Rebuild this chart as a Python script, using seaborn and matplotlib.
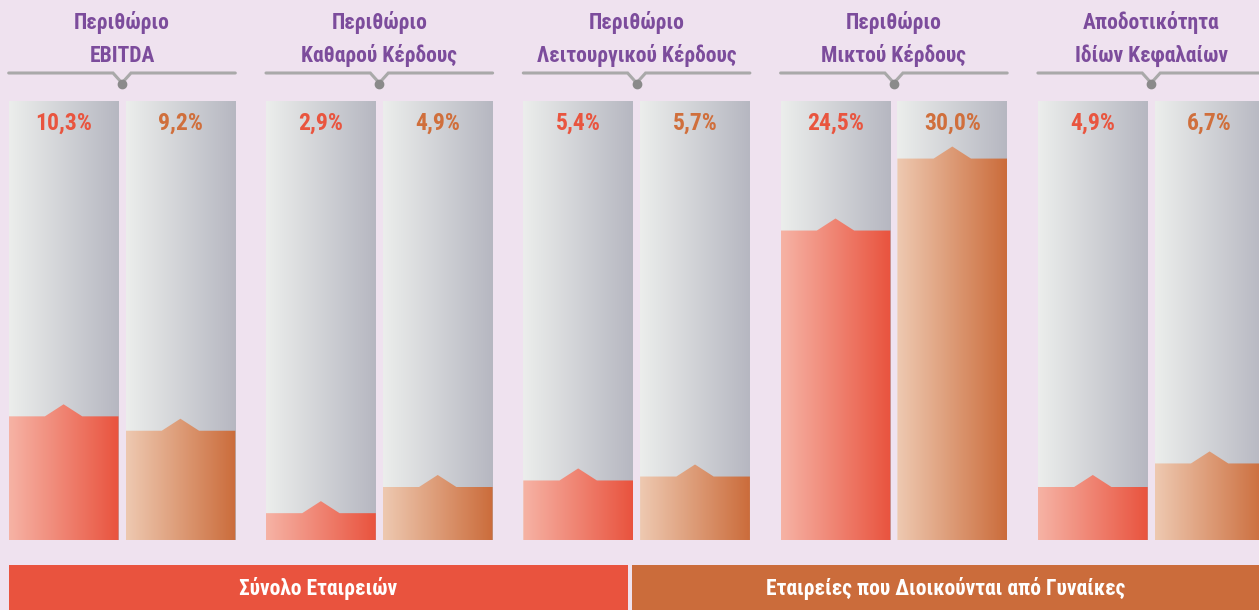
import numpy as np
import pandas as pd
import seaborn as sns
import matplotlib.pyplot as plt
from matplotlib import font_manager
from matplotlib.colors import LinearSegmentedColormap
from matplotlib.patches import Polygon, Rectangle
from matplotlib.transforms import blended_transform_factory

# --- data ---
metrics = ['Περιθώριο\nEBITDA', 'Περιθώριο\nΚαθαρού Κέρδους', 'Περιθώριο\nΛειτουργικού Κέρδους',
           'Περιθώριο\nΜικτού Κέρδους', 'Αποδοτικότητα\nΙδίων Κεφαλαίων']
series = ['Σύνολο Εταιρειών', 'Εταιρείες που Διοικούνται από Γυναίκες']
total_vals = [10.3, 2.9, 5.4, 24.5, 4.9]
women_vals = [9.2, 4.9, 5.7, 30.0, 6.7]

df = pd.DataFrame({
    'metric': metrics * 2,
    'series': [series[0]] * len(metrics) + [series[1]] * len(metrics),
    'value': total_vals + women_vals,
})

# --- style ---
bg = '#efe2ef'
purple = '#7c4c9c'
solid = ['#e9533e', '#cb6c3b']
light = ['#f6b3a5', '#eec9b1']
label_colors = ['#e9553f', '#d06f3c']

installed = {f.name for f in font_manager.fontManager.ttflist}
font = next((f for f in ['Roboto Condensed', 'Liberation Sans Narrow', 'Open Sans Condensed']
             if f in installed), 'DejaVu Sans')

sns.set_theme(style='white')
plt.rcParams['font.family'] = [font, 'DejaVu Sans']
plt.rcParams['font.weight'] = 'bold'

W, H = 1259, 610
pitch = 257.3           # px per category
x_first = 122.0         # px centre of first group
ylo, ymax = 0.85, 34.4  # visible value range of the columns

fig = plt.figure(figsize=(W / 100, H / 100), dpi=100, facecolor=bg)

ax = fig.add_axes([0, 70 / H, 1, 439 / H])
sns.barplot(data=df, x='metric', y='value', hue='series', palette=solid,
            width=0.908, gap=0.06, legend=False, ax=ax)

grad = np.linspace(0, 1, 256)[None, :]
grey_cmap = LinearSegmentedColormap.from_list('grey', ['#eceeec', '#b6b7c1'])
bar_cmaps = [LinearSegmentedColormap.from_list(f'c{i}', [light[i], solid[i]]) for i in range(2)]
label_tf = blended_transform_factory(ax.transData, ax.transAxes)

bars = sorted(ax.patches, key=lambda p: p.get_x())
bump = 0.92
for i, p in enumerate(bars):
    k = i % 2
    x0, w, h = p.get_x(), p.get_width(), p.get_height()
    p.set_visible(False)
    # grey column behind
    ax.imshow(grad, cmap=grey_cmap, extent=(x0, x0 + w, 0, ymax), aspect='auto',
              interpolation='bilinear', zorder=1)
    # value bar with a little peak on top
    shape = Polygon([(x0, 0), (x0, h), (x0 + 0.33 * w, h), (x0 + 0.5 * w, h + bump),
                     (x0 + 0.67 * w, h), (x0 + w, h), (x0 + w, 0)],
                    closed=True, facecolor='none', edgecolor='none')
    ax.add_patch(shape)
    im = ax.imshow(grad, cmap=bar_cmaps[k], extent=(x0, x0 + w, 0, h + bump), aspect='auto',
                   interpolation='bilinear', zorder=2)
    im.set_clip_path(shape)
    ax.text(x0 + w / 2, 1 - 22 / 439, f'{h:.1f}'.replace('.', ',') + '%', transform=label_tf,
            ha='center', va='center', fontsize=17, color=label_colors[k])

xlim = (-x_first / pitch, (W - x_first) / pitch)
ax.set_xlim(xlim)
ax.set_ylim(ylo, ymax)
ax.axis('off')

# --- headers ---
ax_head = fig.add_axes([0, 1 - 101 / H, 1, 101 / H])
ax_head.set_xlim(xlim)
ax_head.set_ylim(101, 0)
ax_head.axis('off')
dx = 9 / pitch
for g, name in enumerate(metrics):
    left = bars[2 * g].get_x()
    right = bars[2 * g + 1].get_x() + bars[2 * g + 1].get_width()
    cx = (left + right) / 2
    ax_head.plot([left, cx - dx, cx, cx + dx, right], [73, 73, 83, 73, 73],
                 color='#a9a9a9', lw=2.2, solid_joinstyle='miter')
    ax_head.plot(cx, 84, 'o', ms=6, color='#8a8a8a')
    ax_head.text(cx, 39, name, ha='center', va='center', fontsize=15.5, color=purple,
                 linespacing=1.6)

# --- legend boxes ---
ax_leg = fig.add_axes([0, 0, 1, 45 / H])
ax_leg.set_xlim(0, W)
ax_leg.set_ylim(0, 45)
ax_leg.axis('off')
for (x0, x1), col, name in zip([(9, 628), (632, W)], solid, series):
    ax_leg.add_patch(Rectangle((x0, 0), x1 - x0, 45, facecolor=col, edgecolor='none'))
    ax_leg.text((x0 + x1) / 2, 22, name, ha='center', va='center', fontsize=15.5, color='white')

fig.savefig('out.png', dpi=100, facecolor=bg)
